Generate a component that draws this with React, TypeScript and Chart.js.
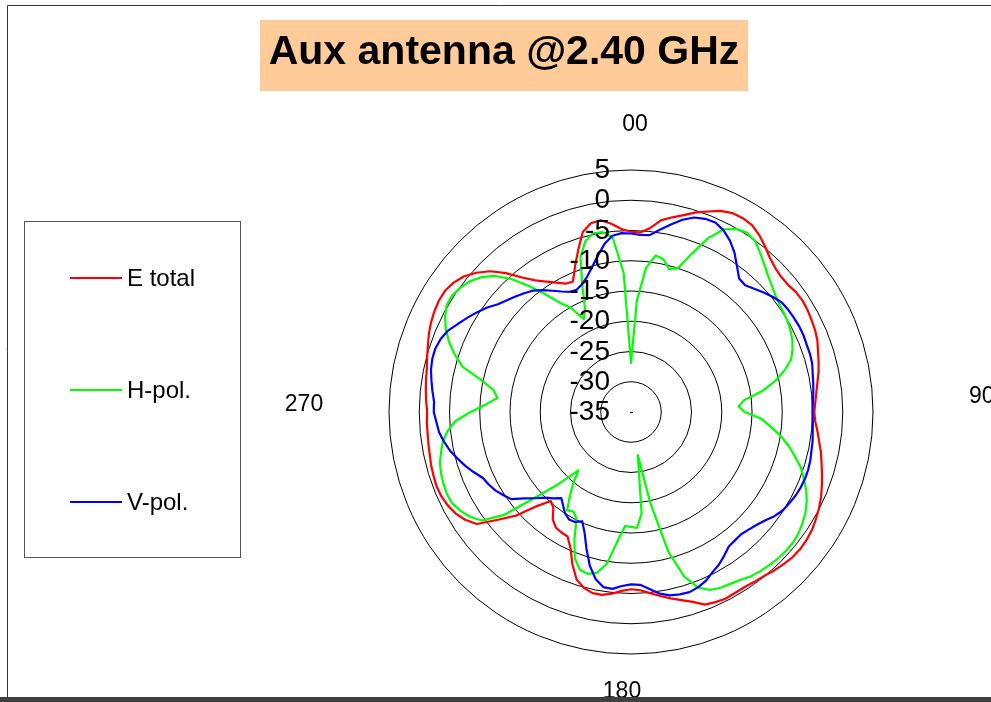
import React, { useEffect, useRef } from "react";
import { Chart, registerables } from "chart.js";

Chart.register(...registerables);

const TITLE = "Aux antenna @2.40 GHz";
const SERIES_NAMES = ["E total", "H-pol.", "V-pol."];
const SERIES_COLORS = ["#ff0000", "#00ff00", "#0000ff"];
const ANGLE_LABELS = ["00", "90", "180", "270"];
const R_MIN = -35;
const R_MAX = 5;
const R_STEP = 5;

const ANGLES = [
  0, 3, 6, 9, 12, 15, 18, 21, 24, 27, 30, 33, 36, 39, 42, 45, 48, 51, 54, 57,
  60, 63, 66, 69, 72, 75, 78, 81, 84, 87, 90, 93, 96, 99, 102, 105, 108, 111, 114, 117,
  120, 123, 126, 129, 132, 135, 138, 141, 144, 147, 150, 153, 156, 159, 162, 165, 168, 171, 174, 177,
  180, 183, 186, 189, 192, 195, 198, 201, 204, 207, 210, 213, 216, 219, 222, 225, 228, 231, 234, 237,
  240, 243, 246, 249, 252, 255, 258, 261, 264, 267, 270, 273, 276, 279, 282, 285, 288, 291, 294, 297,
  300, 303, 306, 309, 312, 315, 318, 321, 324, 327, 330, 333, 336, 339, 342, 345, 348, 351, 354, 357,
];

const E_TOTAL = [
  -5.2, -5.3, -4.4, -2.9, -2.1, -1.3, -0.3, 0.5, 1.4, 1.9,
  2.0, 1.8, 1.1, 0.2, -0.7, -1.3, -1.6, -1.6, -1.3, -1.2,
  -1.3, -1.5, -1.7, -2.0, -2.5, -2.9, -3.3, -3.8, -4.2, -4.5,
  -4.7, -4.5, -4.0, -3.5, -2.9, -2.4, -1.8, -1.2, -0.6, -0.1,
  0.3, 0.7, 0.9, 1.0, 0.9, 0.6, 0.3, -0.1, -0.3, -0.5,
  -0.5, -0.4, -0.6, -0.9, -2.0, -2.8, -3.5, -4.2, -4.9, -5.5,
  -5.7, -5.4, -4.8, -4.4, -4.4, -4.9, -5.9, -8.0, -10.4, -11.9,
  -12.0, -12.2, -13.0, -14.6, -15.2, -13.0, -9.4, -6.7, -3.5, -2.3,
  -1.5, -1.0, -0.7, -0.6, -0.7, -0.8, -1.0, -1.1, -1.2, -1.2,
  -1.3, -1.1, -0.9, -0.7, -0.5, -0.1, 0.3, 0.8, 1.2, 1.5,
  1.7, 1.7, 1.3, 0.6, -0.6, -2.1, -4.1, -6.4, -8.1, -9.3,
  -10.3, -11.2, -11.4, -9.2, -6.8, -4.2, -3.1, -2.9, -3.7, -4.7,
];

const H_POL = [
  -26.9, -16.6, -11.0, -8.8, -9.2, -10.6, -10.0, -7.0, -3.5, -1.1,
  -0.1, 0.3, -0.1, -1.1, -2.1, -3.0, -3.7, -4.3, -4.7, -4.9,
  -5.1, -5.4, -5.8, -6.4, -7.2, -8.8, -10.7, -13.1, -16.2, -17.2,
  -16.2, -13.4, -11.8, -10.0, -8.4, -7.0, -5.5, -4.4, -3.3, -2.4,
  -1.7, -1.2, -0.8, -0.6, -0.6, -0.7, -0.9, -1.1, -1.4, -1.9,
  -2.2, -2.4, -2.8, -3.9, -6.3, -11.0, -19.6, -27.8, -18.2, -15.8,
  -16.0, -16.1, -13.5, -9.6, -7.8, -7.3, -7.6, -9.1, -12.0, -15.2,
  -16.0, -15.6, -17.8, -19.8, -22.0, -18.3, -14.2, -7.9, -4.5, -3.2,
  -2.4, -1.8, -1.7, -1.8, -2.0, -2.3, -2.9, -3.5, -4.5, -5.9,
  -8.5, -11.0, -12.8, -12.0, -9.7, -6.2, -4.4, -2.8, -1.5, -0.5,
  0.2, 0.3, -0.1, -0.7, -1.7, -3.2, -5.4, -8.2, -11.0, -13.5,
  -15.1, -17.8, -16.3, -12.5, -8.0, -5.8, -4.8, -4.9, -6.0, -12.0,
];

const V_POL = [
  -5.5, -5.7, -5.6, -4.5, -3.3, -2.1, -1.2, -0.8, -0.7, -1.3,
  -2.3, -3.6, -5.2, -6.6, -6.8, -6.2, -5.5, -4.8, -4.2, -4.0,
  -3.9, -3.8, -3.8, -3.9, -3.9, -4.0, -4.3, -4.5, -4.7, -4.9,
  -5.0, -4.9, -4.8, -4.6, -4.5, -4.3, -4.2, -4.2, -4.3, -4.5,
  -4.8, -5.1, -5.7, -6.5, -7.1, -7.5, -7.8, -7.7, -7.5, -6.7,
  -5.9, -5.3, -4.5, -4.0, -3.7, -3.8, -4.0, -4.6, -5.6, -6.4,
  -6.5, -6.2, -5.6, -5.7, -6.8, -8.7, -11.2, -13.6, -15.2, -14.6,
  -14.5, -15.0, -15.9, -16.7, -15.8, -15.0, -13.7, -12.3, -10.5, -9.8,
  -9.1, -8.6, -8.2, -7.2, -6.2, -5.3, -4.4, -3.7, -3.1, -2.8,
  -2.4, -2.4, -2.0, -1.6, -1.2, -1.0, -1.0, -1.3, -1.9, -2.9,
  -3.8, -4.7, -5.6, -6.7, -7.4, -8.0, -8.6, -9.2, -10.1, -11.1,
  -12.0, -12.7, -12.9, -12.4, -11.5, -10.2, -8.6, -6.9, -5.7, -5.4,
];

const FONT = '"Liberation Sans", Arial, Helvetica, sans-serif';

const decorPlugin = {
  id: "decor",
  beforeDraw(chart: any) {
    const ctx = chart.ctx as CanvasRenderingContext2D;
    ctx.save();
    ctx.fillStyle = "#ffffff";
    ctx.fillRect(0, 0, chart.width, chart.height);

    // outer frame
    ctx.strokeStyle = "#333333";
    ctx.lineWidth = 1;
    ctx.beginPath();
    ctx.moveTo(chart.width, 5.5);
    ctx.lineTo(7.5, 5.5);
    ctx.lineTo(7.5, 697);
    ctx.stroke();

    // title box
    ctx.fillStyle = "#ffcc99";
    ctx.fillRect(260, 20, 488, 71);
    ctx.fillStyle = "#000000";
    ctx.font = `bold 41px ${FONT}`;
    ctx.textAlign = "center";
    ctx.textBaseline = "alphabetic";
    ctx.fillText(TITLE, 504, 64);

    // legend box
    ctx.strokeStyle = "#555555";
    ctx.lineWidth = 1;
    ctx.strokeRect(24.5, 221.5, 216, 336);
    const legendY = [278, 390, 502];
    ctx.font = `24px ${FONT}`;
    ctx.textAlign = "left";
    SERIES_NAMES.forEach((name, i) => {
      ctx.strokeStyle = SERIES_COLORS[i];
      ctx.lineWidth = 2;
      ctx.beginPath();
      ctx.moveTo(70, legendY[i]);
      ctx.lineTo(122, legendY[i]);
      ctx.stroke();
      ctx.fillStyle = "#000000";
      ctx.fillText(name, 127, legendY[i] + 8);
    });
    ctx.restore();
  },
  afterDraw(chart: any) {
    const ctx = chart.ctx as CanvasRenderingContext2D;
    const s = chart.scales.r;
    ctx.save();
    ctx.fillStyle = "#000000";

    // radial tick labels
    ctx.font = `28px ${FONT}`;
    ctx.textAlign = "right";
    ctx.textBaseline = "alphabetic";
    s.ticks.forEach((t: any) => {
      const d = s.getDistanceFromCenterForValue(t.value);
      ctx.fillText(String(t.value), s.xCenter - 21, s.yCenter - d + 8);
    });

    // centre mark
    ctx.fillRect(s.xCenter - 1, s.yCenter, 3, 1);

    // angle labels
    ctx.font = `23px ${FONT}`;
    ctx.textAlign = "center";
    ctx.fillText(ANGLE_LABELS[0], s.xCenter + 4, s.yCenter - 281);
    ctx.fillText(ANGLE_LABELS[3], s.xCenter - 327, s.yCenter - 1);
    ctx.textAlign = "left";
    ctx.fillText(ANGLE_LABELS[1], s.xCenter + 338, s.yCenter - 9);
    ctx.textAlign = "center";
    ctx.fillText(ANGLE_LABELS[2], s.xCenter - 9, s.yCenter + 286);

    // bottom band
    ctx.fillStyle = "#404040";
    ctx.fillRect(0, 697, chart.width, 5);
    ctx.restore();
  },
};

export default function App() {
  const canvasRef = useRef<HTMLCanvasElement | null>(null);

  useEffect(() => {
    const canvas = canvasRef.current;
    if (!canvas) return;
    const seriesData = [E_TOTAL, H_POL, V_POL];
    const chart = new Chart(canvas, {
      type: "radar",
      data: {
        labels: ANGLES.map((a) => String(a)),
        datasets: seriesData.map((d, i) => ({
          label: SERIES_NAMES[i],
          data: d,
          borderColor: SERIES_COLORS[i],
          backgroundColor: SERIES_COLORS[i],
          borderWidth: 2.2,
          pointRadius: 0,
          pointHoverRadius: 0,
          fill: false,
          tension: 0,
          order: 3 - i,
        })),
      },
      options: {
        responsive: false,
        animation: false,
        devicePixelRatio: 1,
        layout: { padding: { left: 389, top: 170, right: 118, bottom: 48 } },
        plugins: {
          legend: { display: false },
          title: { display: false },
          tooltip: { enabled: false },
        },
        elements: { line: { borderJoinStyle: "round" } },
        scales: {
          r: {
            min: R_MIN,
            max: R_MAX,
            startAngle: 0,
            ticks: { stepSize: R_STEP, display: false },
            grid: { color: "#000000", lineWidth: 1, circular: true },
            angleLines: { display: false },
            pointLabels: { display: false },
          },
        },
      } as any,
      plugins: [decorPlugin],
    });
    return () => chart.destroy();
  }, []);

  return (
    <div
      style={{
        position: "fixed",
        left: 0,
        top: 0,
        width: 991,
        height: 702,
        overflow: "hidden",
        background: "#ffffff",
      }}
    >
      <canvas ref={canvasRef} width={991} height={702} style={{ display: "block" }} />
    </div>
  );
}
